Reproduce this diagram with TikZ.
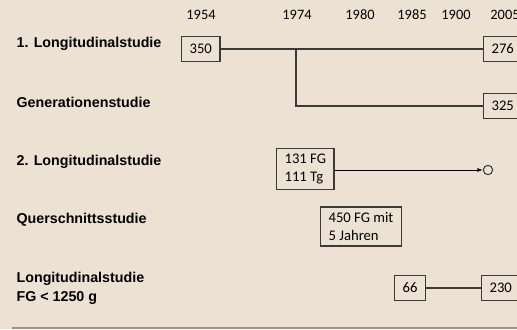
\documentclass[tikz,border=0pt]{standalone}
\usepackage{fontspec}
\setmainfont{Carlito}
\newfontfamily\labelfont{Liberation Sans}
\usetikzlibrary{positioning}
\usetikzlibrary{arrows.meta}
\definecolor{paper}{HTML}{EDE1D4}
\definecolor{ink}{HTML}{3A3A3A}
\definecolor{rule}{HTML}{9B9282}
\tikzset{
  every path/.append style={line width=0.9pt},
  year/.style={font=\fontsize{10.8}{12}\selectfont, inner sep=0pt},
  study/.style={anchor=west, align=left, inner sep=0pt, font=\labelfont\bfseries\fontsize{10.7}{14}\selectfont},
  count/.style={draw=ink, anchor=west, align=left, inner xsep=6pt, inner ysep=4pt,
    minimum height=18.5pt, font=\fontsize{11}{13.5}\selectfont}
}
\begin{document}
\begin{tikzpicture}[x=0.75pt, y=-0.75pt]
  \fill[paper] (0,0) rectangle (517,329);
  \useasboundingbox (0,0) rectangle (517,329);

  % time axis
  \foreach \yr/\xpos in {1954/201, 1974/297, 1980/360, 1985/412, 1900/456, 2005/505}
    \node[year] (y\yr) at (\xpos,15) {\yr};

  % studies
  \node[study] (long1) at (16,44) {1. Longitudinalstudie};
  \node[study] (gen) at (16,102) {Generationenstudie};
  \node[study] (long2) at (16,162) {2. Longitudinalstudie};
  \node[study] (quer) at (16,220) {Querschnittsstudie};
  \node[study] (longfg) at (16,288.5) {Longitudinalstudie\\FG < 1250 g};

  % counts
  \node[count] (n350) at (181,49) {350};
  \node[count] (n276) at (483,49) {276};
  \node[count] (n325) at (483,106) {325};
  \node[count] (n131) at (276,169) {131 FG\\111 Tg};
  \node[count] (n450) at (320,226.5) {450 FG mit\\5 Jahren};
  \node[count] (n66) at (394,288) {66};
  \node[count] (n230) at (481,288) {230};
  \node[circle, draw=ink, line width=0.8pt, minimum size=7pt, inner sep=0pt] (open) at (488,170) {};
  \coordinate (split) at (296,49);

  \draw[ink] (n350.east) -- (n276.west);
  \draw[ink] (split) |- (n325.west);
  \draw[-{Latex[length=4pt, width=3pt]}, line width=0.7pt] (n131.east |- open) -- (open.west);
  \draw[ink] (n66.east) -- (n230.west);

  \draw[rule, line width=1.5pt] (12,328) -- (517,328);
\end{tikzpicture}
\end{document}
